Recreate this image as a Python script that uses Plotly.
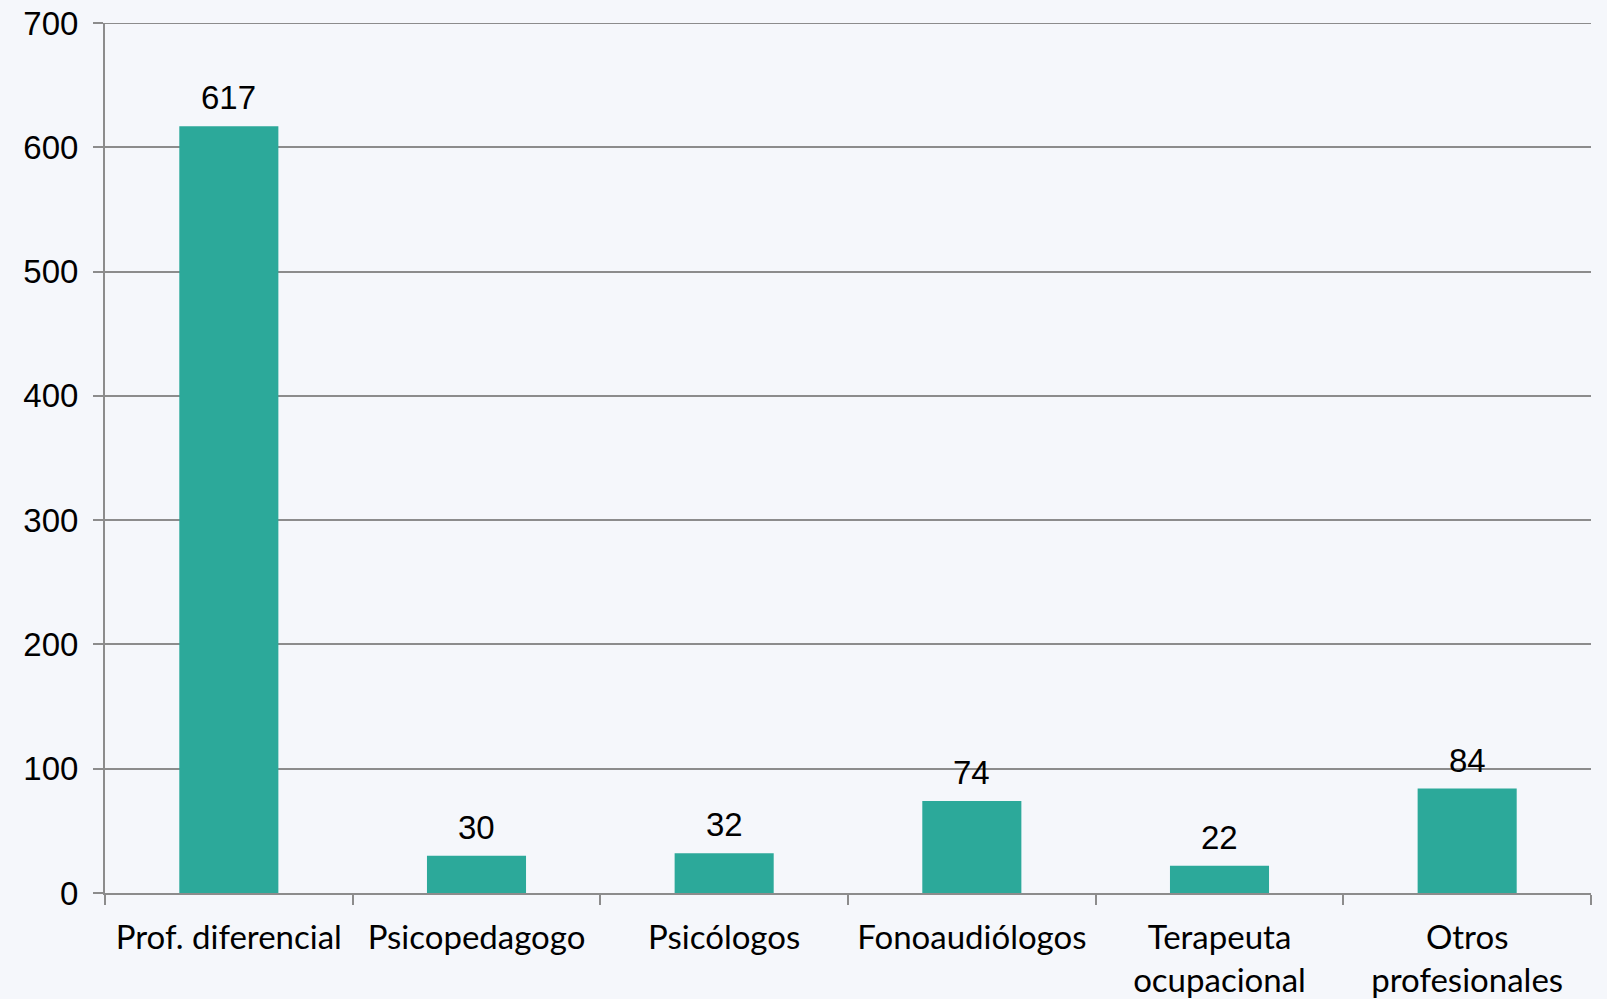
import plotly.graph_objects as go

categories = ["Prof. diferencial", "Psicopedagogo", "Psicólogos", "Fonoaudiólogos",
              "Terapeuta<br>ocupacional", "Otros<br>profesionales"]
values = [617, 30, 32, 74, 22, 84]
y_ticks = [0, 100, 200, 300, 400, 500, 600, 700]
y_max = 700

bg = "#F5F7FB"
grid = "#8C8C8C"
label_font = dict(family="Liberation Sans, Arial", size=33, color="#000000")

fig = go.Figure(go.Bar(
    x=categories, y=values, width=0.4,
    marker=dict(color="#2CA99A", line=dict(width=0)),
))

for c, v in zip(categories, values):
    fig.add_annotation(x=c, y=v, text=str(v), showarrow=False,
                       yanchor="bottom", yshift=8, font=label_font)

fig.add_shape(type="line", xref="paper", x0=0, x1=1, yref="y", y0=y_max, y1=y_max,
              line=dict(color=grid, width=2), layer="below")

fig.update_layout(
    width=1607, height=999,
    margin=dict(l=105, r=16, t=23, b=106),
    paper_bgcolor=bg, plot_bgcolor=bg,
    showlegend=False,
    bargap=0.6,
)
fig.update_yaxes(
    range=[0, y_max], tickvals=y_ticks,
    showgrid=True, gridcolor=grid, gridwidth=2,
    showline=True, linecolor=grid, linewidth=2,
    ticks="outside", ticklen=10, tickcolor=grid, tickwidth=2,
    tickfont=label_font,
    ticklabelstandoff=8,
    zeroline=False, automargin=False,
)
fig.update_xaxes(
    showline=True, linecolor=grid, linewidth=2,
    ticks="outside", tickson="boundaries", ticklen=10, tickcolor=grid, tickwidth=2,
    tickfont=dict(family="Lato, Open Sans", size=33, color="#000000"),
    ticklabelstandoff=14,
    showgrid=False, automargin=False,
)

fig.write_html(
    "out.html",
    config={"displayModeBar": False},
    post_script="document.body.style.margin='0';document.body.style.overflow='hidden';"
                "document.body.style.background='#F5F7FB';",
)
